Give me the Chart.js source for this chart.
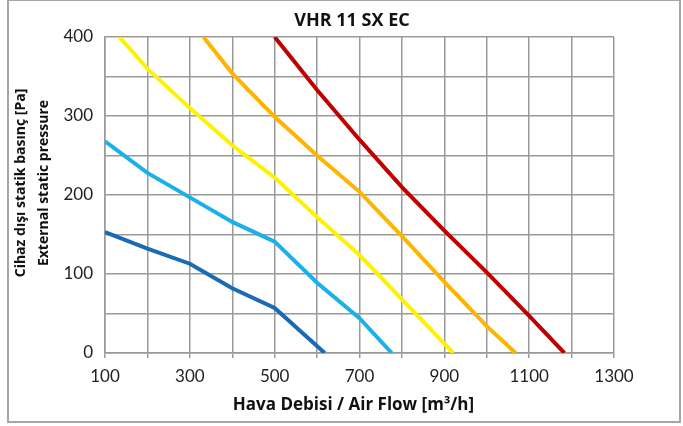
<!DOCTYPE html>
<html lang="tr">
<head>
    <meta charset="UTF-8">
    <title>VHR 11 SX EC</title>
    <style>
        body { margin: 0; background: #fff; }
        #wrap { position: relative; width: 683px; height: 426px; }
        #frame { position: absolute; left: 7px; top: -1px; width: 670px; height: 420px; border: 2px solid #a6a6a6; pointer-events: none; }
    </style>
</head>
<body>
    <div id="wrap">
        <canvas id="fanChart" width="683" height="426"></canvas>
        <div id="frame"></div>
    </div>

    <script src="https://cdn.jsdelivr.net/npm/chart.js"></script>
    <script>
        // curves: air flow [m3/h] vs external static pressure [Pa]
        const flowDarkBlue = [100, 200, 300, 400, 500, 618];
        const pressDarkBlue = [153, 132, 113, 82, 57, 0];
        const flowLightBlue = [100, 200, 300, 400, 500, 600, 700, 776];
        const pressLightBlue = [268, 228, 197, 166, 141, 89, 44, 0];
        const flowYellow = [134, 200, 300, 400, 500, 600, 700, 921];
        const pressYellow = [400, 360, 310, 263, 222, 172, 124, 0];
        const flowOrange = [332, 400, 500, 600, 700, 800, 900, 1000, 1068];
        const pressOrange = [400, 354, 299, 250, 204, 148, 90, 34, 0];
        const flowRed = [500, 600, 700, 800, 900, 1000, 1100, 1183];
        const pressRed = [400, 333, 270, 210, 155, 102, 47, 0];

        const xLabels = [100, 300, 500, 700, 900, 1100, 1300];
        const yLabels = [0, 100, 200, 300, 400];

        const chartTitle = 'VHR 11 SX EC';
        const xTitle = 'Hava Debisi / Air Flow [m³/h]';
        const yTitle = ['Cihaz dışı statik basınç [Pa]', 'External static pressure'];

        function pts(xs, ys) {
            return xs.map((x, i) => ({ x: x, y: ys[i] }));
        }

        function curve(xs, ys, color) {
            return {
                data: pts(xs, ys),
                borderColor: color,
                borderWidth: 4,
                pointRadius: 0,
                tension: 0,
                fill: false
            };
        }

        const gridGrey = '#9a9a9a';
        const tickFont = 'Lato, "Open Sans", sans-serif';
        const titleFont = '"Open Sans", Lato, sans-serif';

        // the sheet's titles sit a little off the plot centre, so they are drawn by hand
        const sheetTitles = {
            id: 'sheetTitles',
            afterDraw(chart) {
                const c = chart.ctx;
                const area = chart.chartArea;
                c.save();
                c.fillStyle = '#111';
                c.textAlign = 'center';
                c.textBaseline = 'alphabetic';

                c.font = 'bold 18px ' + titleFont;
                c.fillText(chartTitle, 352, 26);

                c.font = 'bold 17px ' + titleFont;
                c.fillText(xTitle, (area.left + area.right) / 2 - 6, 410);

                c.font = 'bold 14px ' + titleFont;
                c.translate(0, (area.top + area.bottom) / 2 - 12);
                c.rotate(-Math.PI / 2);
                c.fillText(yTitle[0], 0, 25);
                c.fillText(yTitle[1], 0, 47.5);
                c.restore();
            }
        };

        const ctx = document.getElementById('fanChart').getContext('2d');
        new Chart(ctx, {
            type: 'line',
            data: {
                datasets: [
                    curve(flowDarkBlue, pressDarkBlue, '#1a6ab4'),
                    curve(flowLightBlue, pressLightBlue, '#1cb0ea'),
                    curve(flowYellow, pressYellow, '#fff200'),
                    curve(flowOrange, pressOrange, '#ffb400'),
                    curve(flowRed, pressRed, '#c00000')
                ]
            },
            plugins: [sheetTitles],
            options: {
                responsive: false,
                animation: false,
                layout: { padding: { left: 11, right: 69, top: 37, bottom: 13 } },
                plugins: {
                    legend: { display: false },
                    tooltip: { enabled: false },
                    title: { display: false }
                },
                scales: {
                    x: {
                        type: 'linear',
                        min: 100,
                        max: 1300,
                        afterFit: s => { s.height = 60; },
                        border: { color: gridGrey, width: 1.5 },
                        grid: { color: gridGrey, lineWidth: 1.5, tickLength: 5, drawTicks: true },
                        ticks: {
                            stepSize: 100,
                            autoSkip: false,
                            maxRotation: 0,
                            color: '#222',
                            font: { family: tickFont, size: 17, lineHeight: 1.2 },
                            padding: 8,
                            callback: v => xLabels.includes(v) ? String(v) : ''
                        },
                        title: { display: false }
                    },
                    y: {
                        type: 'linear',
                        min: 0,
                        max: 400,
                        afterFit: s => { s.width = 94; },
                        border: { color: gridGrey, width: 1.5 },
                        grid: { color: gridGrey, lineWidth: 1.5, drawTicks: false },
                        ticks: {
                            stepSize: 50,
                            autoSkip: false,
                            color: '#222',
                            font: { family: tickFont, size: 17 },
                            padding: 12,
                            callback: v => yLabels.includes(v) ? String(v) : ''
                        },
                        title: { display: false }
                    }
                }
            }
        });
    </script>
</body>
</html>
